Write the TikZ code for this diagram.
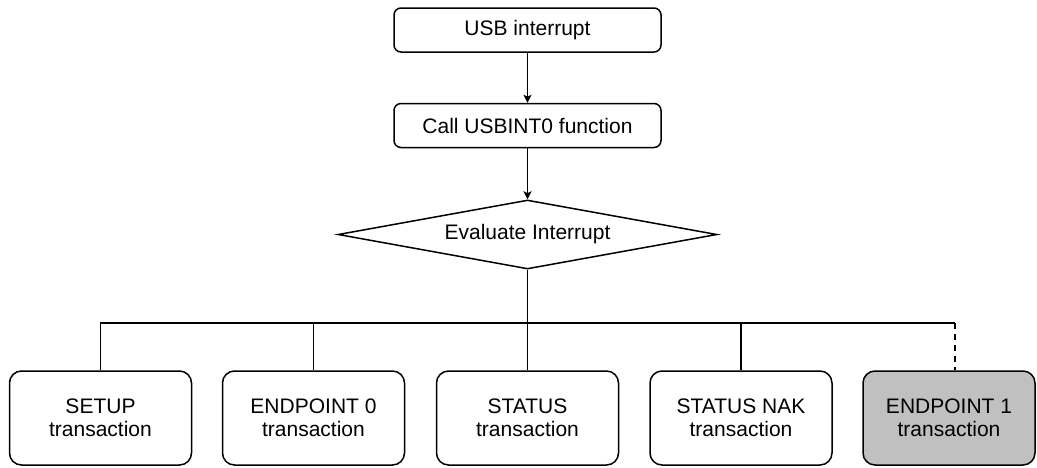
\documentclass[tikz,border=0pt]{standalone}
\usepackage{fontspec}
\setmainfont{Liberation Sans}
\usetikzlibrary{shapes.geometric, arrows.meta, positioning}
\usepackage{xcolor}
\definecolor{FlowBlack}{HTML}{000000}
\definecolor{FlowWhite}{HTML}{ffffff}
\definecolor{FlowGrey}{HTML}{C0C0C0}
\tikzset{
    % Box styles
    event/.style={
        rectangle,
        rounded corners=7pt,
        draw=FlowBlack,
        fill=FlowWhite,
        line width=1.5pt,
        minimum width=267pt,
        minimum height=44pt,
        align=center,
        font=\fontsize{21}{23}\selectfont
    },
    decision/.style={
        diamond,
        draw=FlowBlack,
        fill=FlowWhite,
        line width=1.5pt,
        minimum width=379pt,
        minimum height=69pt,
        inner sep=0pt,
        aspect=5.5,
        align=center,
        font=\fontsize{21}{23}\selectfont
    },
    handler/.style={
        rectangle,
        rounded corners=12pt,
        draw=FlowBlack,
        fill=FlowWhite,
        line width=1.5pt,
        minimum width=182pt,
        minimum height=94pt,
        align=center,
        font=\fontsize{21}{23}\selectfont
    },
    pending/.style={
        handler,
        fill=FlowGrey,
        minimum width=172pt
    },
    % Connector styles
    arrow/.style={
        ->,
        >={Stealth[length=8pt, width=8pt, inset=2pt]},
        line width=1.5pt,
        draw=FlowBlack
    },
    busline/.style={
        line width=1.5pt,
        draw=FlowBlack
    },
    dashedline/.style={
        busline,
        dash pattern=on 6pt off 5pt
    }
}

\begin{document}
\begin{tikzpicture}[x=1pt, y=-1pt]
    \useasboundingbox (0,0) rectangle (1037,467);

    \node[event] (usbint) at (527.5,30) {USB interrupt};
    \node[event] (callfn) at (527.5,125.5) {Call USBINT0 function};
    \node[decision] (evalint) at (527.5,234.5) {Evaluate Interrupt};

    \draw[arrow] (usbint) -- (callfn);
    \draw[arrow] (callfn) -- (evalint);

    \node[handler] (setup) at (100.5,418) {SETUP\\transaction};
    \node[handler] (ep0) at (313.5,418) {ENDPOINT 0\\transaction};
    \node[handler] (status) at (527.5,418) {STATUS\\transaction};
    \node[handler] (statusnak) at (741,418) {STATUS NAK\\transaction};
    \node[pending] (ep1) at (949,418) {ENDPOINT 1\\transaction};

    % bus to the handlers
    \coordinate (jEpOne) at (955,323);
    \draw[busline] (evalint.south) -- (status.north);
    \draw[busline] (setup.north) |- (jEpOne);
    \draw[busline] (ep0.north) -- (ep0.north |- jEpOne);
    \draw[busline] (statusnak.north) -- (statusnak.north |- jEpOne);
    \draw[dashedline] (jEpOne) -- (jEpOne |- ep1.north);
\end{tikzpicture}
\end{document}
